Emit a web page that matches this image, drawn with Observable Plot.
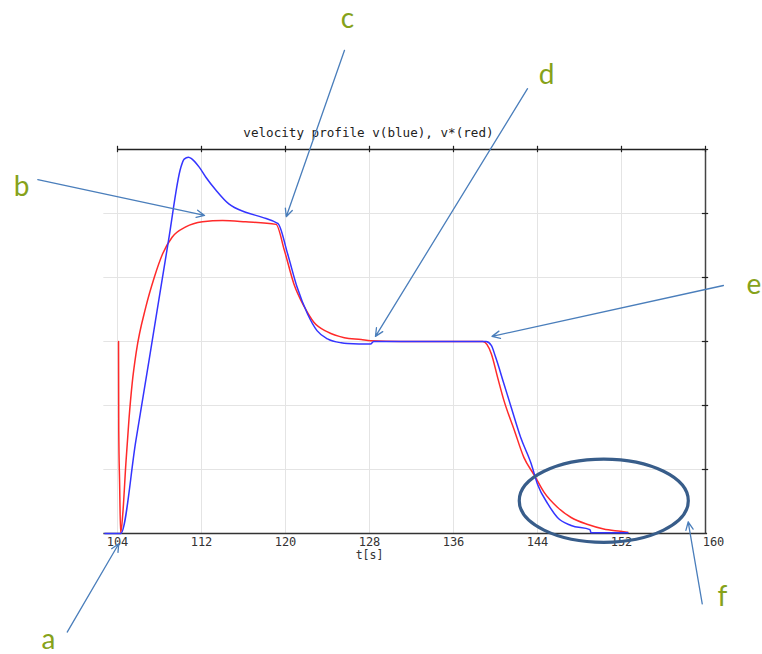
<!DOCTYPE html>
<html><head><meta charset="utf-8">
<script src="https://cdn.jsdelivr.net/npm/d3@7"></script>
<script src="https://cdn.jsdelivr.net/npm/@observablehq/plot@0.6"></script>
<style>html,body{margin:0;padding:0;background:#fff}#chart svg{display:block}</style>
</head><body><div id="chart"></div>
<script>
// ---- data ----
const xTicks = [104, 112, 120, 128, 136, 144, 152, 160];
const yGrid = [1, 2, 3, 4, 5];
const title = "velocity profile v(blue), v*(red)";
const xLabel = "t[s]";

// v (blue)
const blueT = [102.8,104.15,104.3,105.75,107.0,108.86,110.03,110.35,110.76,111.1,111.8,112.4,113.4,114.6,116.2,117.8,119.2,119.3,120.2,121.1,122.1,123.0,124.0,125.3,125.9,128.1,128.4,138.9,139.1,139.6,140.0,140.8,141.5,142.4,143.4,144.0,145.0,145.9,147.2,149.0,149.1,152.6];
const blueV = [0,0,0,1.45,2.7,4.58,5.72,5.85,5.88,5.85,5.72,5.57,5.36,5.15,5.02,4.94,4.85,4.84,4.37,3.85,3.43,3.17,3.04,2.98,2.97,2.96,3.0,3.0,3.0,2.94,2.76,2.34,1.97,1.50,1.09,0.77,0.46,0.25,0.125,0.06,0.01,0.01];

// v* (red)
const redT = [104.1,104.12,104.2,104.3,104.5,104.8,105.1,105.4,105.8,106.7,107.5,108.3,109.2,110.5,112.1,114.0,116.2,119.1,119.9,120.8,121.8,122.7,124.0,125.6,127.2,128.1,131.0,138.8,139.6,140.2,140.8,141.8,142.7,143.7,144.6,145.9,147.2,148.8,150.3,151.9,152.6];
const redV = [3.0,1.6,0.8,0,0.3,1.1,1.8,2.35,2.85,3.54,4.0,4.37,4.63,4.79,4.87,4.89,4.87,4.83,4.42,3.9,3.54,3.30,3.15,3.06,3.03,3.01,3.0,3.0,2.81,2.44,2.08,1.61,1.19,0.91,0.65,0.41,0.25,0.14,0.07,0.035,0.02];

// annotations (data units)
const noteLabel = ["a", "b", "c", "d", "e", "f"];
const noteT = [97.43, 94.86, 125.9, 144.86, 164.6, 161.62];
const noteV = [-1.80, 5.28, 7.9, 7.02, 3.75, -1.14];
const arrowT1 = [99.21, 96.41, 125.62, 143.05, 161.71, 159.69];
const arrowV1 = [-1.54, 5.53, 7.55, 6.95, 3.875, -1.10];
const arrowT2 = [104.12, 112.29, 120.07, 128.57, 139.67, 158.35];
const arrowV2 = [-0.16, 4.97, 4.95, 3.08, 3.08, 0.18];
const ringT = 150.36, ringV = 0.505, ringRT = 8.05, ringRV = 0.65;

// ---- tables ----
const blue = blueT.map((t, i) => ({t, v: blueV[i]}));
const red = redT.map((t, i) => ({t, v: redV[i]}));
const notes = noteLabel.map((s, i) => ({s, t: noteT[i], v: noteV[i]}));
const arrows = arrowT1.map((t1, i) => ({t1, v1: arrowV1[i], t2: arrowT2[i], v2: arrowV2[i]}));
const mono = "DejaVu Sans Mono, Liberation Mono, monospace";

function ring(index, {x, y}) {
  const e = document.createElementNS("http://www.w3.org/2000/svg", "ellipse");
  e.setAttribute("cx", x(ringT));
  e.setAttribute("cy", y(ringV));
  e.setAttribute("rx", Math.abs(x(ringT + ringRT) - x(ringT)));
  e.setAttribute("ry", Math.abs(y(ringV + ringRV) - y(ringV)));
  e.setAttribute("fill", "none");
  e.setAttribute("stroke", "#385d8a");
  e.setAttribute("stroke-width", 3.2);
  return e;
}

const chart = Plot.plot({
  width: 762, height: 654,
  marginLeft: 117, marginRight: 57, marginTop: 149, marginBottom: 121,
  x: {domain: [104, 160], axis: null},
  y: {domain: [0, 6], axis: null},
  style: {background: "#fff"},
  marks: [
    // grid
    Plot.ruleX(xTicks.slice(0, -1), {y1: 0, y2: 6, stroke: "#e4e4e4", strokeWidth: 1}),
    Plot.ruleY(yGrid, {x1: 102.7, x2: 160, stroke: "#e4e4e4", strokeWidth: 1}),
    // frame
    Plot.ruleY([6], {x1: 104, x2: 160, stroke: "#222", strokeWidth: 1.3}),
    Plot.ruleX([160], {y1: 0, y2: 6, stroke: "#444", strokeWidth: 1.5}),
    Plot.ruleX(xTicks, {y1: 5.95, y2: 6.05, stroke: "#222", strokeWidth: 1.2}),
    Plot.ruleY([...yGrid, 6], {x1: 159.7, x2: 160.3, stroke: "#222", strokeWidth: 1.2}),
    Plot.ruleY([0], {x1: 102.7, x2: 160.2, stroke: "#333", strokeWidth: 1.5}),
    // tick labels
    Plot.text(xTicks.slice(0, -1), {x: d => d, y: 0, dy: 12, lineAnchor: "bottom", text: d => String(d), fontFamily: mono, fontSize: 12, fill: "#333"}),
    Plot.text(xTicks.slice(-1), {x: d => d, y: 0, dx: 8, dy: 12, lineAnchor: "bottom", text: d => String(d), fontFamily: mono, fontSize: 12, fill: "#333"}),
    Plot.text([xLabel], {x: 128, y: 0, dy: 25, lineAnchor: "bottom", text: d => d, fontFamily: mono, fontSize: 11.5, fill: "#333"}),
    Plot.text([title], {x: 127.9, y: 6.2, lineAnchor: "bottom", text: d => d, fontFamily: mono, fontSize: 12.6, fill: "#222"}),
    // curves
    Plot.line(red, {x: "t", y: "v", stroke: "#ff2a2a", strokeWidth: 1.5, curve: "monotone-x"}),
    Plot.line(blue, {x: "t", y: "v", stroke: "#3434ff", strokeWidth: 1.5, curve: "monotone-x"}),
    // annotations
    ring,
    Plot.arrow(arrows, {x1: "t1", y1: "v1", x2: "t2", y2: "v2", stroke: "#4a7ebb", strokeWidth: 1.3, headLength: 10, headAngle: 50}),
    Plot.text(notes, {x: "t", y: "v", text: "s", lineAnchor: "bottom", fontFamily: "Lato, Open Sans, sans-serif", fontSize: 28, fill: "#86a21a"})
  ]
});
document.getElementById("chart").appendChild(chart);
</script>
</body></html>
